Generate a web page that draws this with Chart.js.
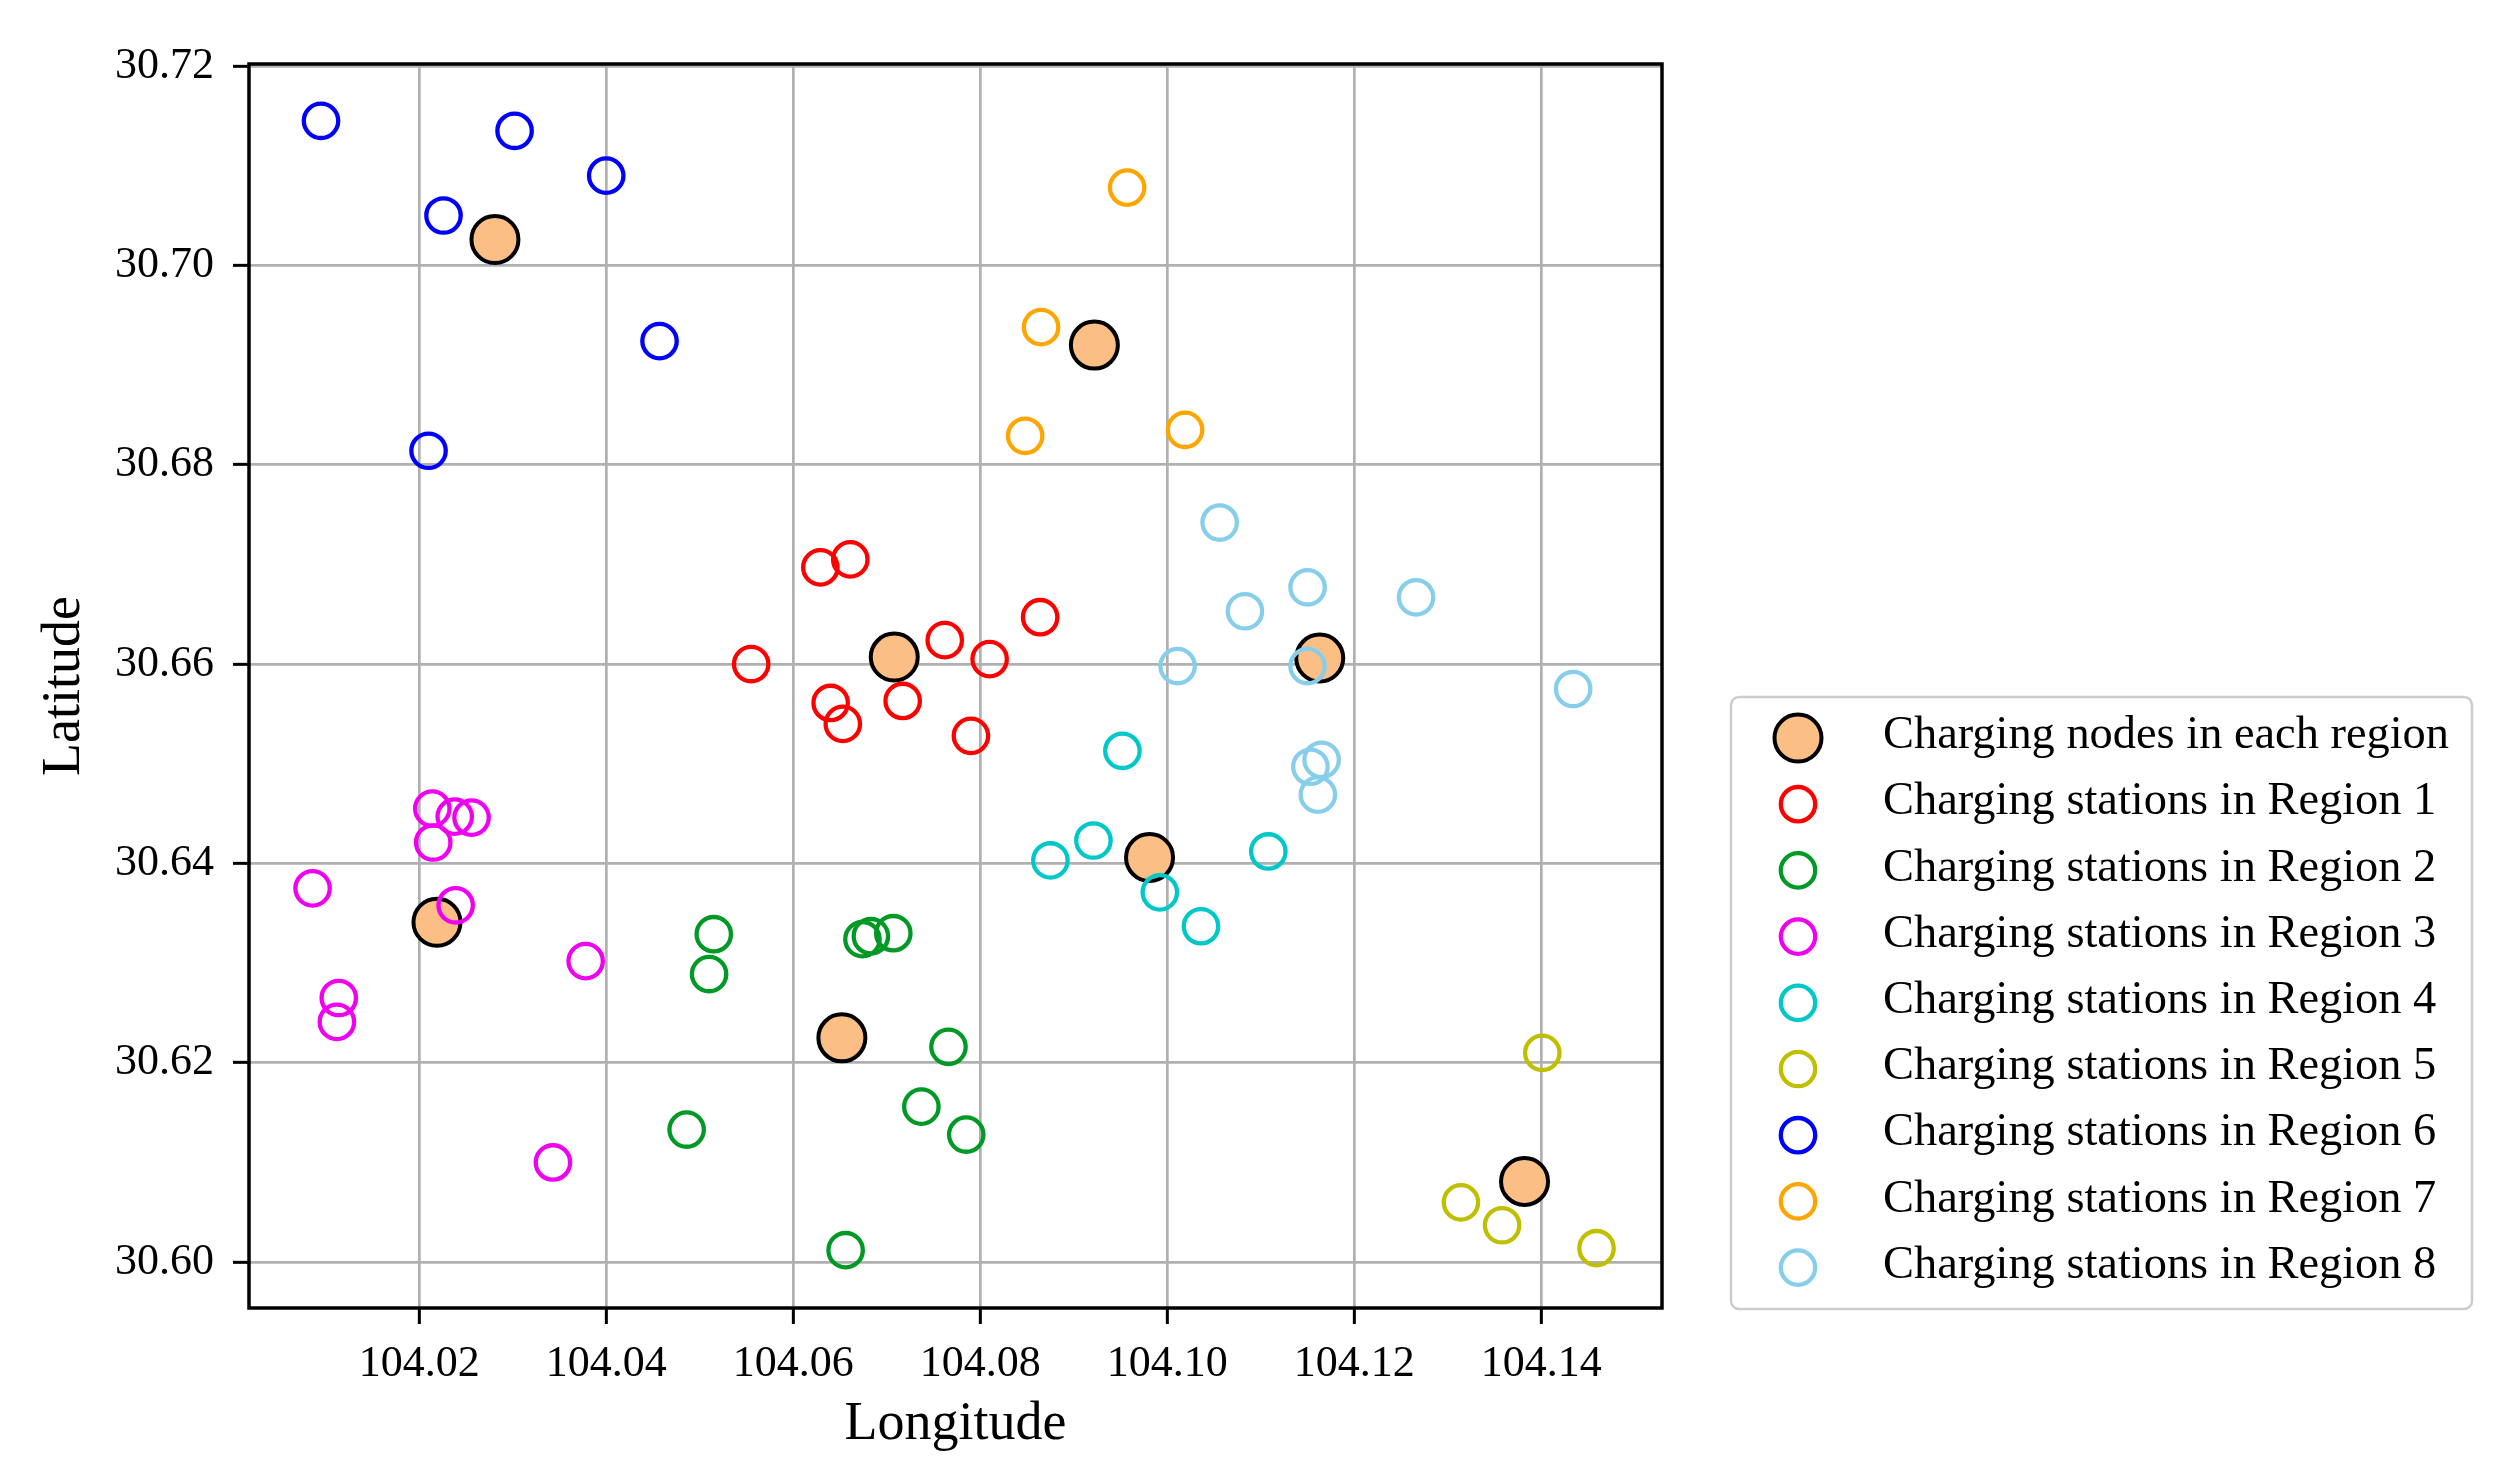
<!DOCTYPE html>
<html>
<head>
<meta charset="utf-8">
<script src="https://cdn.jsdelivr.net/npm/chart.js@4.4.1/dist/chart.umd.min.js"></script>
<style>
  html, body { margin: 0; padding: 0; background: #fff; }
  canvas { display: block; }
</style>
</head>
<body>
<canvas id="chart" width="2493" height="1481"></canvas>
<script>
// axis ranges and ticks
const xMin = 104.0018, xMax = 104.1529;
const yMin = 30.5954, yMax = 30.7202;
const xTicks = [104.02, 104.04, 104.06, 104.08, 104.10, 104.12, 104.14];
const yTicks = [30.60, 30.62, 30.64, 30.66, 30.68, 30.70, 30.72];

// charging nodes, regions 1..8
const nodeLon = [104.0708, 104.0652, 104.0219, 104.0981, 104.1382, 104.0281, 104.0922, 104.1163];
const nodeLat = [30.6607, 30.6225, 30.6341, 30.6406, 30.6081, 30.7026, 30.6920, 30.6606];

// charging stations per region
const r1Lon = [104.0629, 104.0661, 104.0555, 104.0640, 104.0653, 104.0717, 104.0864, 104.0762, 104.0810, 104.0790];
const r1Lat = [30.6697, 30.6705, 30.6600, 30.6561, 30.6540, 30.6563, 30.6647, 30.6624, 30.6605, 30.6528];

const r2Lon = [104.0515, 104.0510, 104.0674, 104.0683, 104.0707, 104.0486, 104.0656, 104.0737, 104.0766, 104.0785];
const r2Lat = [30.6329, 30.6289, 30.6324, 30.6327, 30.6330, 30.6133, 30.6012, 30.6156, 30.6216, 30.6128];

const r3Lon = [104.0214, 104.0238, 104.0256, 104.0215, 104.0086, 104.0239, 104.0114, 104.0112, 104.0378, 104.0343];
const r3Lat = [30.6455, 30.6447, 30.6446, 30.6421, 30.6375, 30.6358, 30.6265, 30.6241, 30.6302, 30.6100];

const r4Lon = [104.0952, 104.0875, 104.0921, 104.1108, 104.0992, 104.1036];
const r4Lat = [30.6513, 30.6403, 30.6423, 30.6412, 30.6371, 30.6337];

const r5Lon = [104.1401, 104.1314, 104.1358, 104.1459];
const r5Lat = [30.6210, 30.6060, 30.6037, 30.6014];

const r6Lon = [104.0095, 104.0302, 104.0400, 104.0226, 104.0457, 104.0210];
const r6Lat = [30.7145, 30.7135, 30.7090, 30.7050, 30.6924, 30.6814];

const r7Lon = [104.0957, 104.0865, 104.0848, 104.1019];
const r7Lat = [30.7078, 30.6938, 30.6829, 30.6835];

const r8Lon = [104.1056, 104.1150, 104.1083, 104.1266, 104.1011, 104.1150, 104.1434, 104.1153, 104.1165, 104.1161];
const r8Lat = [30.6742, 30.6677, 30.6653, 30.6667, 30.6598, 30.6598, 30.6575, 30.6497, 30.6504, 30.6469];

const stationLon = [r1Lon, r2Lon, r3Lon, r4Lon, r5Lon, r6Lon, r7Lon, r8Lon];
const stationLat = [r1Lat, r2Lat, r3Lat, r4Lat, r5Lat, r6Lat, r7Lat, r8Lat];
const stationColors = ['#ff0000', '#009926', '#f000f0', '#00c8c8', '#bfbf00', '#0000ff', '#ffa500', '#87ceeb'];

function zip(xs, ys) {
    return xs.map((x, i) => ({ x: x, y: ys[i] }));
}

const datasets = [{
    label: 'Charging nodes in each region',
    data: zip(nodeLon, nodeLat),
    pointRadius: 23.5,
    backgroundColor: '#fbbf85',
    borderColor: '#000',
    borderWidth: 4,
    order: 1 // drawn underneath the stations
}];

stationLon.forEach((lons, i) => {
    datasets.push({
        label: 'Charging stations in Region ' + (i + 1),
        data: zip(lons, stationLat[i]),
        pointRadius: 17.2,
        backgroundColor: 'transparent',
        borderColor: stationColors[i],
        borderWidth: 4.3,
        order: 0
    });
});

// full box around the plot like matplotlib spines
const frame = {
    id: 'frame',
    afterDatasetsDraw(chart) {
        const a = chart.chartArea;
        const ctx = chart.ctx;
        ctx.save();
        ctx.strokeStyle = '#000';
        ctx.lineWidth = 3.5;
        ctx.strokeRect(a.left, a.top, a.right - a.left, a.bottom - a.top);
        ctx.restore();
    }
};

// legend box at lower right, outside the axes
const legendBox = {
    id: 'legendBox',
    afterDraw(chart) {
        const ctx = chart.ctx;
        ctx.save();
        ctx.fillStyle = '#fff';
        ctx.strokeStyle = '#cccccc';
        ctx.lineWidth = 2.5;
        ctx.beginPath();
        ctx.roundRect(1731, 697, 741, 612, 8);
        ctx.fill();
        ctx.stroke();
        chart.data.datasets.forEach((ds, i) => {
            const y = 738 + i * 66.2;
            ctx.beginPath();
            ctx.arc(1798, y, ds.pointRadius, 0, Math.PI * 2);
            if (ds.backgroundColor !== 'transparent') {
                ctx.fillStyle = ds.backgroundColor;
                ctx.fill();
            }
            ctx.lineWidth = ds.borderWidth;
            ctx.strokeStyle = ds.borderColor;
            ctx.stroke();
            ctx.fillStyle = '#000';
            ctx.font = '46.4px "Liberation Serif"';
            ctx.textBaseline = 'middle';
            ctx.fillText(ds.label, 1883, y - 2);
        });
        ctx.restore();
    }
};

Chart.defaults.font.family = '"Liberation Serif", "Times New Roman", serif';
Chart.defaults.color = '#000';

const gridStyle = {
    color: '#b0b0b0',
    lineWidth: 2.7,
    drawTicks: true,
    tickLength: 16,
    tickColor: '#000',
    tickWidth: 3
};

new Chart(document.getElementById('chart'), {
    type: 'scatter',
    data: { datasets: datasets },
    options: {
        responsive: false,
        animation: false,
        events: [],
        devicePixelRatio: 1,
        layout: { padding: { top: 64, right: 831, bottom: 0, left: 0 } },
        plugins: {
            legend: { display: false },
            tooltip: { enabled: false }
        },
        scales: {
            x: {
                type: 'linear',
                min: xMin,
                max: xMax,
                afterBuildTicks: s => { s.ticks = xTicks.map(v => ({ value: v })); },
                afterFit: s => { s.height = 173; },
                grid: gridStyle,
                border: { display: false },
                ticks: {
                    font: { size: 44 },
                    padding: 14,
                    maxRotation: 0,
                    autoSkip: false,
                    callback: v => v.toFixed(2)
                },
                title: {
                    display: true,
                    text: 'Longitude',
                    font: { size: 54 },
                    padding: { top: 0, bottom: 24 }
                }
            },
            y: {
                type: 'linear',
                min: yMin,
                max: yMax,
                afterBuildTicks: s => { s.ticks = yTicks.map(v => ({ value: v })); },
                afterFit: s => { s.width = 249; },
                grid: gridStyle,
                border: { display: false },
                ticks: {
                    font: { size: 44 },
                    padding: 19,
                    autoSkip: false,
                    callback: v => v.toFixed(2)
                },
                title: {
                    display: true,
                    text: 'Latitude',
                    font: { size: 54 },
                    padding: { top: 32, bottom: 0 }
                }
            }
        }
    },
    plugins: [frame, legendBox]
});
</script>
</body>
</html>
